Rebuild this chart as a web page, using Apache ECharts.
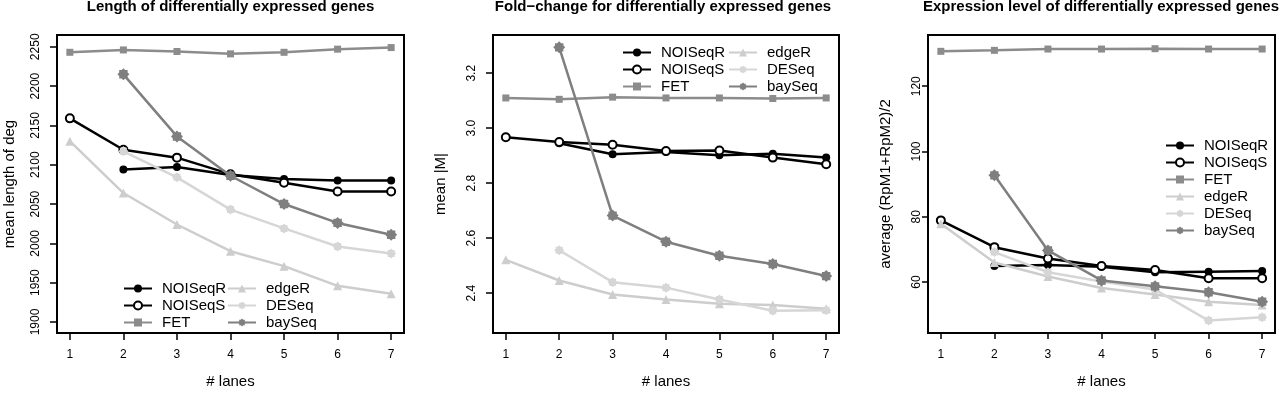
<!DOCTYPE html>
<html><head><meta charset="utf-8">
<script src="https://cdn.jsdelivr.net/npm/echarts@6/dist/echarts.min.js"></script>
<style>html,body{margin:0;padding:0;background:#fff}#c{width:1280px;height:394px}</style>
</head><body><div id="c"></div>
<script>
// ---------- data ----------
const lanes = [1, 2, 3, 4, 5, 6, 7];
const methods = ['NOISeqR', 'NOISeqS', 'FET', 'edgeR', 'DESeq', 'baySeq'];

// Panel 1: mean length of differentially expressed genes
const lenNOISeqR = [null, 2094, 2097, 2087, 2082, 2080, 2080];
const lenNOISeqS = [2159, 2119, 2109, 2088, 2077, 2066, 2066];
const lenFET     = [2243, 2246, 2244, 2241, 2243, 2247, 2249];
const lenEdgeR   = [2130, 2064, 2024, 1990, 1971, 1946, 1936];
const lenDESeq   = [null, 2117, 2084, 2043, 2019, 1996, 1987];
const lenBaySeq  = [null, 2215, 2136, 2086, 2050, 2026, 2011];

// Panel 2: mean |M|
const fcNOISeqR = [null, 2.945, 2.905, 2.913, 2.902, 2.907, 2.893];
const fcNOISeqS = [2.967, 2.950, 2.940, 2.917, 2.919, 2.893, 2.869];
const fcFET     = [3.110, 3.105, 3.113, 3.110, 3.110, 3.108, 3.110];
const fcEdgeR   = [2.521, 2.446, 2.395, 2.377, 2.361, 2.357, 2.343];
const fcDESeq   = [null, 2.556, 2.440, 2.420, 2.377, 2.336, 2.338];
const fcBaySeq  = [null, 3.294, 2.682, 2.587, 2.536, 2.506, 2.462];

// Panel 3: average (RpM1+RpM2)/2
const exNOISeqR = [null, 64.9, 65.2, 64.7, 63.0, 63.2, 63.4];
const exNOISeqS = [78.9, 70.7, 67.2, 64.9, 63.7, 61.2, 61.2];
const exFET     = [130.7, 131.0, 131.4, 131.4, 131.5, 131.4, 131.4];
const exEdgeR   = [77.9, 66.0, 61.7, 58.2, 56.2, 54.0, 53.0];
const exDESeq   = [null, 69.2, 63.0, 60.2, 57.7, 48.2, 49.2];
const exBaySeq  = [null, 92.7, 69.7, 60.5, 58.7, 56.9, 54.0];

const yTicksLen = [1900, 1950, 2000, 2050, 2100, 2150, 2200, 2250];
const yTicksFc  = [2.4, 2.6, 2.8, 3.0, 3.2];
const yTicksEx  = [60, 80, 100, 120];

const titles = ['Length of differentially expressed genes',
                'Fold\u2212change for differentially expressed genes',
                'Expression level of differentially expressed genes'];
const yNames = ['mean length of deg', 'mean |M|', 'average (RpM1+RpM2)/2'];
const xName = '# lanes';

// ---------- styling ----------
const FONT = '"Liberation Sans", Arial, Helvetica, sans-serif';
const STAR = 'path://M15,15L85,15L85,85L15,85Z M50,0L100,50L50,100L0,50Z';
const styles = {
  NOISeqR: { color: '#000000', symbol: 'circle', size: 8, fill: '#000000', open: false },
  NOISeqS: { color: '#000000', symbol: 'circle', size: 8, fill: '#ffffff', open: true },
  FET:     { color: '#8c8c8c', symbol: 'rect', size: 7, fill: '#8c8c8c', open: false },
  edgeR:   { color: '#cdcdcd', symbol: 'triangle', size: 9, fill: '#cdcdcd', open: false },
  DESeq:   { color: '#d6d6d6', symbol: STAR, size: 10, fill: '#d6d6d6', open: false },
  baySeq:  { color: '#7f7f7f', symbol: STAR, size: 12, fill: '#7f7f7f', open: false }
};

const panels = [
  { vals: [lenNOISeqR, lenNOISeqS, lenFET, lenEdgeR, lenDESeq, lenBaySeq], ticks: yTicksLen,
    grid: { left: 57, top: 35, width: 347, height: 303 }, ymin: 1886, ymax: 2265,
    labelMargin: 15, tickLen: 7, nameGap: 40, fmt: v => String(v), titleX: 230.5 },
  { vals: [fcNOISeqR, fcNOISeqS, fcFET, fcEdgeR, fcDESeq, fcBaySeq], ticks: yTicksFc,
    grid: { left: 493, top: 35, width: 346, height: 304 }, ymin: 2.255, ymax: 3.339,
    labelMargin: 15, tickLen: 7, nameGap: 45, fmt: v => v.toFixed(1), titleX: 663 },
  { vals: [exNOISeqR, exNOISeqS, exFET, exEdgeR, exDESeq, exBaySeq], ticks: yTicksEx,
    grid: { left: 928, top: 35, width: 347, height: 304 }, ymin: 44.4, ymax: 135.7,
    labelMargin: 5, tickLen: 6, nameGap: 35, fmt: v => String(v), titleX: 1101 }
];

const grids = [], xAxes = [], yAxes = [], series = [], graphics = [];
panels.forEach((p, g) => {
  grids.push(Object.assign({ show: true, borderColor: '#000', borderWidth: 2, backgroundColor: 'transparent' }, p.grid));
  xAxes.push({
    type: 'value', gridIndex: g, min: 0.76, max: 7.24,
    axisLine: { show: false }, splitLine: { show: false },
    axisTick: { show: true, customValues: lanes, length: p.tickLen, lineStyle: { color: '#000', width: 1.5 } },
    axisLabel: { customValues: lanes, margin: 16, fontSize: 12, color: '#000', fontFamily: FONT },
    name: xName, nameLocation: 'middle', nameGap: 41,
    nameTextStyle: { fontSize: 15, color: '#000', fontFamily: FONT }
  });
  yAxes.push({
    type: 'value', gridIndex: g, min: p.ymin, max: p.ymax,
    axisLine: { show: false }, splitLine: { show: false },
    axisTick: { show: true, customValues: p.ticks, length: p.tickLen, lineStyle: { color: '#000', width: 1.5 } },
    axisLabel: { customValues: p.ticks, rotate: 90, margin: p.labelMargin, fontSize: 12, color: '#000',
                 fontFamily: FONT, formatter: p.fmt },
    name: yNames[g], nameLocation: 'middle', nameRotate: 90, nameGap: p.nameGap,
    nameTextStyle: { fontSize: 15, color: '#000', fontFamily: FONT }
  });
  methods.forEach((m, k) => {
    const s = styles[m];
    series.push({
      type: 'line', name: m, xAxisIndex: g, yAxisIndex: g,
      data: lanes.map((l, i) => [l, p.vals[k][i]]),
      symbol: s.symbol, symbolSize: s.size, symbolKeepAspect: true, showSymbol: true,
      lineStyle: { color: s.color, width: 2.5 },
      itemStyle: { color: s.fill, borderColor: s.color, borderWidth: s.open ? 2 : 0 },
      emphasis: { disabled: true }, silent: true, z: 2 + k
    });
  });
  graphics.push({
    type: 'text', x: p.titleX, y: -1,
    style: { text: titles[g], font: 'bold 15px ' + FONT, fill: '#000', textAlign: 'center', textVerticalAlign: 'top' }
  });
});

const legendBase = {
  orient: 'vertical', itemWidth: 28, itemHeight: 10, itemGap: 0, padding: 0,
  selectedMode: false,
  textStyle: { fontSize: 15, lineHeight: 17, color: '#000', fontFamily: FONT, padding: [0, 0, 0, 5] }
};
const legends = [
  Object.assign({}, legendBase, { left: 123, top: 280, data: methods.slice(0, 3) }),
  Object.assign({}, legendBase, { left: 227, top: 280, data: methods.slice(3) }),
  Object.assign({}, legendBase, { left: 622, top: 44, data: methods.slice(0, 3) }),
  Object.assign({}, legendBase, { left: 728, top: 44, data: methods.slice(3) }),
  Object.assign({}, legendBase, { left: 1165, top: 137, data: methods.slice() })
];

const chart = echarts.init(document.getElementById('c'), null, { renderer: 'canvas' });
chart.setOption({
  animation: false,
  backgroundColor: '#ffffff',
  textStyle: { fontFamily: FONT },
  grid: grids, xAxis: xAxes, yAxis: yAxes, series: series,
  legend: legends, graphic: graphics
});
</script>
</body></html>
